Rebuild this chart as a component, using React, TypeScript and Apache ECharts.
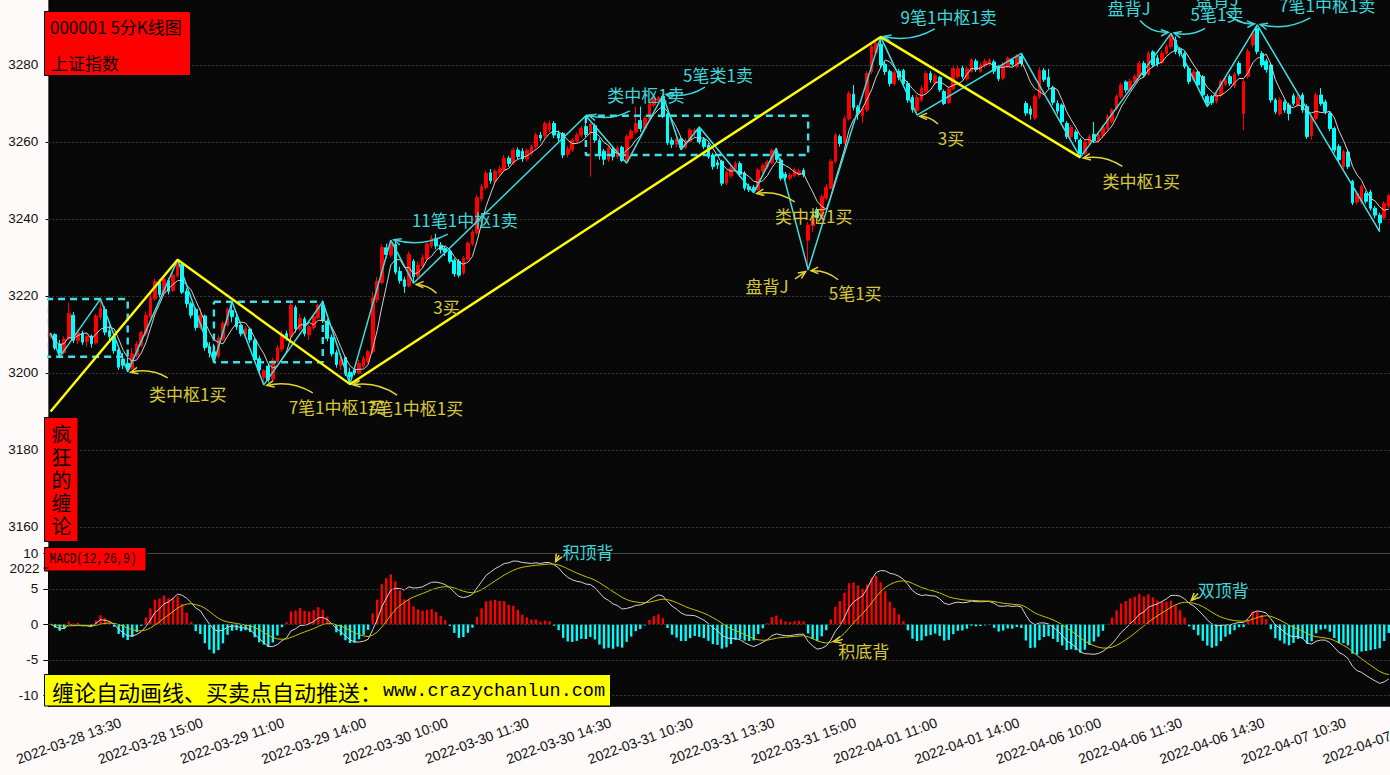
import React, { useEffect, useRef } from 'react';
import * as echarts from 'echarts';

// ---------- data ----------
const tradingDays = ['2022-03-28', '2022-03-29', '2022-03-30', '2022-03-31', '2022-04-01', '2022-04-06', '2022-04-07'];
const firstSlot = 25; // 2022-03-28 13:10
const barCount = 296;
const tickOffset = 4;
const tickStep = 18;

// [open, close, low, high]
const candles: number[][] = [
  [3209.6, 3210.2, 3208.9, 3210.5], [3210.0, 3206.5, 3206.0, 3210.3], [3207.5, 3205.2, 3204.2, 3208.6], [3205.3, 3208.8, 3204.8, 3209.5],
  [3209.0, 3215.5, 3208.5, 3218.3], [3215.0, 3208.5, 3207.8, 3215.8], [3208.4, 3210.5, 3207.5, 3211.2], [3210.3, 3208.0, 3207.3, 3211.0],
  [3208.2, 3209.5, 3206.8, 3210.2], [3209.6, 3207.6, 3206.6, 3210.0], [3207.8, 3214.8, 3207.4, 3215.3], [3214.5, 3216.8, 3213.8, 3219.2],
  [3216.5, 3210.6, 3209.8, 3217.3], [3211.0, 3209.5, 3208.3, 3212.4], [3209.4, 3205.8, 3205.0, 3209.9], [3206.0, 3201.5, 3200.8, 3206.6],
  [3203.6, 3202.0, 3201.0, 3205.2], [3202.5, 3201.0, 3200.3, 3204.0], [3201.2, 3205.0, 3200.8, 3206.5], [3204.6, 3207.5, 3204.0, 3208.2],
  [3207.2, 3210.5, 3206.7, 3211.0], [3210.3, 3215.0, 3209.5, 3216.0], [3214.5, 3219.5, 3214.0, 3220.5], [3219.3, 3223.8, 3218.8, 3224.5],
  [3223.5, 3220.4, 3219.6, 3224.3], [3220.6, 3224.4, 3220.0, 3225.2], [3224.0, 3221.2, 3220.4, 3224.6], [3221.4, 3225.4, 3221.0, 3226.2],
  [3225.2, 3228.4, 3224.8, 3229.4], [3228.2, 3221.0, 3220.5, 3228.8], [3221.2, 3218.0, 3217.0, 3222.0], [3218.0, 3215.0, 3214.2, 3218.6],
  [3216.5, 3211.8, 3211.0, 3217.0], [3211.8, 3215.0, 3211.2, 3216.8], [3214.8, 3206.6, 3205.8, 3215.2], [3206.8, 3205.2, 3204.0, 3208.0],
  [3205.5, 3204.2, 3202.8, 3207.6], [3204.4, 3209.0, 3203.8, 3209.8], [3208.8, 3212.8, 3208.2, 3213.5], [3212.5, 3216.5, 3212.0, 3217.0],
  [3216.2, 3214.6, 3213.2, 3218.5], [3214.4, 3212.0, 3211.2, 3215.5], [3212.4, 3210.2, 3209.5, 3213.0], [3210.0, 3211.5, 3209.2, 3212.2],
  [3211.4, 3208.6, 3207.8, 3211.8], [3208.5, 3203.5, 3202.8, 3209.0], [3203.7, 3200.8, 3199.8, 3204.5], [3198.8, 3200.6, 3196.9, 3201.0],
  [3201.8, 3198.2, 3197.6, 3202.4], [3198.4, 3203.3, 3197.9, 3204.0], [3203.0, 3206.5, 3202.6, 3207.2], [3206.2, 3210.0, 3205.5, 3211.0],
  [3210.2, 3209.2, 3208.4, 3211.0], [3209.4, 3217.6, 3209.0, 3218.2], [3217.0, 3211.5, 3210.5, 3217.6], [3211.4, 3214.2, 3210.8, 3215.3],
  [3214.0, 3210.2, 3209.5, 3214.6], [3209.9, 3212.0, 3208.6, 3212.8], [3211.8, 3214.6, 3211.2, 3215.2], [3214.4, 3217.6, 3214.0, 3218.0],
  [3217.5, 3213.6, 3213.0, 3218.5], [3213.4, 3209.0, 3208.2, 3214.0], [3209.2, 3205.0, 3204.3, 3210.0], [3205.3, 3202.2, 3201.4, 3206.0],
  [3202.0, 3203.5, 3200.8, 3204.5], [3204.0, 3199.8, 3199.2, 3204.3], [3200.2, 3199.0, 3197.1, 3201.4], [3200.8, 3200.0, 3199.4, 3201.8],
  [3200.0, 3202.5, 3199.6, 3203.5], [3201.8, 3203.8, 3201.2, 3204.4], [3203.0, 3205.5, 3202.4, 3206.0], [3205.5, 3219.5, 3205.0, 3221.0],
  [3219.0, 3223.8, 3218.2, 3225.0], [3223.5, 3232.6, 3223.0, 3233.4], [3232.5, 3230.8, 3229.9, 3233.6], [3230.6, 3233.6, 3230.0, 3234.5],
  [3233.4, 3226.2, 3225.6, 3234.0], [3226.4, 3224.0, 3223.2, 3227.6], [3224.2, 3222.5, 3220.8, 3225.0], [3222.6, 3230.8, 3222.2, 3231.6],
  [3229.0, 3225.0, 3223.3, 3229.6], [3225.2, 3228.0, 3224.6, 3229.0], [3227.8, 3230.0, 3227.2, 3230.8], [3229.6, 3233.5, 3229.0, 3234.0],
  [3233.0, 3235.0, 3232.4, 3235.8], [3235.0, 3233.0, 3232.2, 3236.2], [3233.2, 3232.0, 3231.0, 3234.0], [3232.4, 3231.4, 3230.4, 3233.0],
  [3231.6, 3229.0, 3228.4, 3232.0], [3229.3, 3225.8, 3225.0, 3229.8], [3229.0, 3225.4, 3224.8, 3229.6], [3226.0, 3229.8, 3225.5, 3230.4],
  [3229.6, 3233.7, 3229.2, 3234.2], [3233.5, 3236.6, 3233.0, 3237.2], [3236.4, 3245.6, 3236.0, 3246.2], [3245.2, 3248.4, 3244.6, 3249.0],
  [3248.2, 3251.9, 3247.6, 3252.6], [3252.0, 3250.0, 3249.2, 3253.0], [3249.8, 3252.4, 3249.2, 3253.0], [3252.0, 3253.0, 3251.2, 3253.8],
  [3252.7, 3255.8, 3252.2, 3256.6], [3255.8, 3254.4, 3253.6, 3256.4], [3254.6, 3257.9, 3254.0, 3258.6], [3257.9, 3256.2, 3255.5, 3258.6],
  [3257.6, 3255.6, 3254.8, 3258.4], [3255.6, 3257.8, 3255.0, 3258.4], [3257.0, 3258.8, 3256.4, 3259.4], [3258.8, 3261.8, 3258.2, 3262.4],
  [3261.8, 3261.0, 3260.2, 3262.6], [3261.6, 3264.8, 3261.0, 3265.4], [3263.2, 3264.8, 3262.6, 3265.6], [3264.8, 3261.8, 3261.0, 3265.4],
  [3262.2, 3261.0, 3260.2, 3263.0], [3262.2, 3256.6, 3255.8, 3262.6], [3256.8, 3258.2, 3256.0, 3259.0], [3258.0, 3260.4, 3257.4, 3261.0],
  [3260.2, 3261.8, 3259.6, 3262.4], [3261.8, 3263.5, 3261.2, 3264.2], [3264.0, 3262.0, 3261.2, 3266.8], [3262.4, 3264.6, 3251.0, 3265.0],
  [3264.2, 3260.5, 3259.8, 3264.8], [3260.4, 3256.6, 3255.4, 3261.0], [3257.6, 3255.5, 3254.0, 3258.2], [3255.5, 3258.4, 3254.8, 3259.0],
  [3258.2, 3256.2, 3255.2, 3258.8], [3256.2, 3258.4, 3255.6, 3259.0], [3258.6, 3255.2, 3254.8, 3259.0], [3255.0, 3261.4, 3254.5, 3262.0],
  [3261.0, 3262.8, 3260.4, 3263.4], [3262.6, 3264.8, 3262.0, 3269.2], [3265.6, 3263.5, 3262.6, 3269.2], [3263.6, 3266.2, 3263.0, 3266.8],
  [3266.0, 3270.0, 3265.4, 3270.6], [3269.6, 3271.2, 3269.0, 3271.8], [3270.6, 3271.6, 3269.8, 3271.9], [3271.8, 3267.0, 3266.2, 3272.2],
  [3267.2, 3259.8, 3259.2, 3267.6], [3260.4, 3259.4, 3258.4, 3261.2], [3259.4, 3260.8, 3258.6, 3261.4], [3260.8, 3258.6, 3258.0, 3261.2],
  [3258.6, 3260.4, 3258.2, 3261.0], [3260.2, 3263.1, 3259.8, 3263.6], [3262.6, 3263.0, 3261.0, 3263.6], [3263.2, 3260.0, 3259.4, 3263.9],
  [3260.6, 3258.8, 3258.2, 3261.2], [3259.2, 3256.2, 3255.6, 3259.8], [3256.6, 3253.6, 3252.8, 3257.2], [3254.6, 3254.0, 3253.0, 3255.4],
  [3255.0, 3249.3, 3248.6, 3255.4], [3249.3, 3252.0, 3248.8, 3252.6], [3251.2, 3253.2, 3250.6, 3253.8], [3253.0, 3254.4, 3252.4, 3255.0],
  [3254.4, 3251.6, 3251.0, 3255.0], [3251.9, 3248.0, 3247.4, 3252.4], [3248.4, 3247.6, 3247.0, 3249.2], [3248.2, 3247.4, 3246.8, 3248.8],
  [3247.6, 3252.7, 3247.2, 3253.2], [3252.4, 3253.8, 3251.8, 3254.4], [3253.6, 3254.8, 3253.0, 3255.4], [3254.6, 3257.8, 3254.2, 3258.2],
  [3257.6, 3255.4, 3254.8, 3258.4], [3255.3, 3250.6, 3250.0, 3255.8], [3251.6, 3250.8, 3250.2, 3252.2], [3250.6, 3251.4, 3250.0, 3252.0],
  [3251.2, 3252.8, 3250.8, 3253.4], [3251.6, 3252.4, 3251.0, 3253.0], [3252.6, 3251.6, 3250.8, 3253.2], [3234.5, 3238.4, 3226.8, 3239.2],
  [3238.2, 3240.0, 3236.6, 3241.0], [3242.4, 3240.4, 3239.6, 3243.0], [3240.6, 3245.8, 3240.0, 3246.4], [3245.4, 3248.2, 3244.8, 3249.0],
  [3248.0, 3255.0, 3247.6, 3255.6], [3255.0, 3261.8, 3254.5, 3262.4], [3261.4, 3259.6, 3258.8, 3262.0], [3259.8, 3266.1, 3259.4, 3266.8],
  [3266.0, 3272.6, 3265.6, 3273.2], [3272.4, 3269.0, 3268.2, 3274.8], [3269.0, 3267.6, 3265.8, 3269.6], [3266.8, 3268.6, 3265.0, 3269.2],
  [3268.3, 3277.8, 3267.8, 3278.4], [3278.3, 3284.8, 3277.6, 3285.4], [3283.2, 3285.6, 3282.6, 3286.2], [3285.4, 3280.0, 3279.2, 3287.3],
  [3280.2, 3278.3, 3277.4, 3281.0], [3278.3, 3275.2, 3274.4, 3278.8], [3275.2, 3278.0, 3274.6, 3278.6], [3278.4, 3276.8, 3276.0, 3279.0],
  [3278.6, 3275.2, 3274.6, 3279.0], [3275.2, 3270.9, 3270.2, 3275.8], [3271.6, 3268.4, 3267.6, 3272.2], [3268.2, 3271.6, 3267.0, 3272.2],
  [3270.9, 3273.9, 3270.4, 3274.6], [3273.1, 3277.8, 3272.6, 3278.4], [3277.8, 3276.1, 3275.4, 3278.4], [3275.4, 3277.2, 3274.8, 3277.8],
  [3276.8, 3273.6, 3273.0, 3277.2], [3273.1, 3270.0, 3269.6, 3273.6], [3270.2, 3273.8, 3269.8, 3274.4], [3273.8, 3279.1, 3273.4, 3279.6],
  [3277.0, 3279.0, 3276.4, 3279.8], [3279.2, 3277.0, 3276.4, 3279.8], [3276.4, 3279.0, 3276.0, 3279.6], [3278.3, 3281.3, 3278.0, 3281.8],
  [3281.0, 3278.8, 3278.2, 3281.6], [3278.4, 3280.0, 3278.0, 3280.6], [3279.8, 3280.9, 3279.2, 3281.6], [3280.4, 3281.2, 3279.8, 3281.8],
  [3280.8, 3278.4, 3277.6, 3281.4], [3279.6, 3276.4, 3275.8, 3280.0], [3276.6, 3280.2, 3276.0, 3280.8], [3279.6, 3281.8, 3279.2, 3282.2],
  [3281.3, 3280.2, 3279.6, 3281.8], [3279.6, 3282.4, 3279.2, 3282.8], [3282.2, 3280.4, 3279.6, 3283.0], [3270.0, 3267.5, 3266.8, 3270.6],
  [3268.6, 3267.2, 3265.8, 3269.4], [3266.2, 3271.8, 3265.7, 3272.4], [3271.8, 3278.6, 3271.2, 3279.4], [3278.6, 3276.2, 3275.6, 3279.2],
  [3276.8, 3274.4, 3273.8, 3279.0], [3274.0, 3270.3, 3269.6, 3274.6], [3270.0, 3268.0, 3267.2, 3270.8], [3269.6, 3265.3, 3264.6, 3270.0],
  [3264.8, 3261.4, 3260.8, 3265.4], [3261.4, 3263.8, 3260.8, 3264.4], [3262.6, 3260.8, 3260.0, 3263.2], [3260.5, 3257.0, 3256.0, 3261.0],
  [3257.0, 3260.0, 3256.6, 3260.6], [3259.6, 3261.4, 3259.0, 3262.0], [3262.0, 3260.4, 3259.8, 3265.2], [3260.4, 3261.8, 3259.8, 3262.4],
  [3261.6, 3263.8, 3261.0, 3264.4], [3263.5, 3266.6, 3263.0, 3267.2], [3265.4, 3268.3, 3264.8, 3268.8], [3268.7, 3271.8, 3268.2, 3272.4],
  [3271.8, 3274.8, 3271.2, 3275.4], [3275.6, 3273.5, 3272.8, 3276.0], [3273.5, 3275.8, 3273.0, 3276.4], [3275.6, 3277.0, 3275.0, 3277.6],
  [3277.0, 3280.4, 3276.6, 3281.0], [3280.4, 3277.4, 3276.8, 3281.0], [3277.6, 3283.0, 3277.2, 3283.6], [3283.4, 3280.0, 3279.4, 3283.8],
  [3281.8, 3280.4, 3279.6, 3282.6], [3280.6, 3283.0, 3280.2, 3283.6], [3283.0, 3284.8, 3282.6, 3285.4], [3284.8, 3287.8, 3284.2, 3288.2],
  [3286.5, 3283.5, 3282.8, 3287.4], [3284.0, 3283.0, 3282.2, 3284.6], [3283.0, 3279.6, 3279.0, 3283.5], [3279.1, 3275.7, 3275.0, 3279.6],
  [3276.2, 3278.2, 3275.6, 3278.8], [3278.2, 3274.8, 3274.2, 3278.6], [3277.0, 3272.2, 3271.6, 3277.4], [3271.8, 3270.2, 3269.2, 3272.4],
  [3271.8, 3270.2, 3269.6, 3272.2], [3270.6, 3272.2, 3270.0, 3272.8], [3272.2, 3275.7, 3271.6, 3276.2], [3275.0, 3276.2, 3274.6, 3276.8],
  [3277.0, 3275.2, 3274.6, 3277.6], [3274.6, 3277.6, 3274.0, 3278.2], [3280.4, 3277.8, 3277.2, 3281.0], [3267.4, 3275.7, 3263.1, 3276.4],
  [3277.0, 3283.5, 3276.4, 3284.2], [3285.2, 3288.2, 3284.6, 3288.8], [3289.5, 3283.5, 3282.8, 3290.4], [3283.0, 3280.0, 3279.4, 3283.6],
  [3281.0, 3278.8, 3278.0, 3281.6], [3280.0, 3270.9, 3270.2, 3280.6], [3270.9, 3267.9, 3267.2, 3271.4], [3267.4, 3270.9, 3266.8, 3271.6],
  [3270.4, 3268.3, 3267.6, 3271.0], [3269.6, 3267.4, 3265.6, 3270.2], [3272.0, 3270.0, 3269.4, 3272.6], [3269.6, 3271.6, 3269.0, 3272.2],
  [3272.2, 3268.3, 3267.6, 3272.8], [3269.2, 3261.4, 3260.8, 3269.8], [3261.6, 3266.4, 3260.6, 3267.0], [3266.1, 3272.2, 3265.6, 3272.8],
  [3272.2, 3270.0, 3269.4, 3274.0], [3270.4, 3267.9, 3267.2, 3271.0], [3267.4, 3263.5, 3262.8, 3268.0], [3263.5, 3257.9, 3257.2, 3264.0],
  [3258.8, 3255.4, 3254.8, 3259.4], [3253.6, 3257.5, 3253.0, 3258.0], [3257.4, 3253.6, 3253.0, 3258.0], [3249.8, 3244.2, 3243.6, 3250.2],
  [3244.4, 3246.6, 3243.8, 3247.2], [3244.4, 3248.4, 3243.8, 3249.0], [3246.6, 3244.6, 3244.0, 3247.2], [3247.0, 3242.8, 3242.2, 3247.6],
  [3242.8, 3241.0, 3240.2, 3243.4], [3241.0, 3239.0, 3236.7, 3241.6], [3240.4, 3244.0, 3239.8, 3244.6], [3243.4, 3246.0, 3242.8, 3246.6],
];

// 笔 (strokes): [bar index, price]
const biPoints: number[][] = [
  [0, 3210.3], [2, 3204.2], [11, 3219.2], [17, 3200.3], [28, 3229.4], [36, 3202.8], [40, 3218.5], [47, 3196.9],
  [60, 3218.5], [66, 3197.1], [75, 3234.5], [80, 3223.3], [118, 3266.8], [127, 3254.5], [135, 3272.2], [139, 3258.0],
  [143, 3263.9], [155, 3246.8], [160, 3258.4], [167, 3226.8], [183, 3287.3], [191, 3267.0], [214, 3283.0], [227, 3256.0],
  [247, 3288.2], [255, 3269.2], [266, 3290.4], [293, 3236.7],
];
// 线段 (segments)
const segmentPoints: number[][] = [[0, 3190.0], [28, 3229.4], [66, 3197.1], [183, 3287.3], [227, 3256.0]];
// 中枢 boxes: [startIndex, endIndex, low, high]
const zhongshu: number[][] = [[-1, 17, 3204.2, 3219.2], [36, 60, 3202.8, 3218.5], [118, 167, 3256.6, 3266.8]];

const mainTicks = [3160, 3180, 3200, 3220, 3240, 3260, 3280];
const macdTicks = [-10, -5, 0, 5, 10];

// signals on strokes: text, stroke point, side
const signals = [
  { text: '类中枢1买', bi: 3, side: 'buy' },
  { text: '7笔1中枢1买', bi: 7, side: 'buy' },
  { text: '7笔1中枢1买', bi: 9, side: 'buy' },
  { text: '11笔1中枢1卖', bi: 10, side: 'sell' },
  { text: '3买', bi: 11, side: 'buy' },
  { text: '类中枢1卖', bi: 12, side: 'sell' },
  { text: '5笔类1卖', bi: 14, side: 'sell' },
  { text: '类中枢1买', bi: 17, side: 'buy' },
  { text: '盘背J', bi: 19, side: 'buy' },
  { text: '5笔1买', bi: 19, side: 'buy' },
  { text: '9笔1中枢1卖', bi: 20, side: 'sell' },
  { text: '3买', bi: 21, side: 'buy' },
  { text: '类中枢1买', bi: 23, side: 'buy' },
  { text: '盘背J', bi: 24, side: 'sell' },
  { text: '5笔1卖', bi: 24, side: 'sell' },
  { text: '盘背J', bi: 26, side: 'sell' },
  { text: '7笔1中枢1卖', bi: 26, side: 'sell' },
];
// layout of each label: [text dx, text dy, arrow start dx, arrow start dy, curvature]
const signalLayout: number[][] = [
  [60, 22, 40, 6, 0.2], [73, 22, 49, 8, 0.2], [65, 23, 47, 11, 0.2], [74, -21, 57, -6, -0.2],
  [33, 23, 23, 10, 0.2], [60, -21, 44, -5, -0.2], [55, -21, 42, -8, -0.2], [60, 23, 41, 9, 0.2],
  [-41, 16, -13, 9, 0], [47, 23, 30, 10, 0.2], [68, -20, 54, -8, -0.2], [34, 22, 21, 9, 0.2],
  [61, 23, 42, 9, 0.2], [-42, -26, -31, -13, 0.25], [46, -20, 34, -5, -0.2], [-40, -26, -31, -13, 0.25],
  [70, -20, 53, -7, -0.2],
];
const macdSignals = [
  { text: '积顶背', index: 111, side: 'sell' },
  { text: '积底背', index: 172, side: 'buy' },
  { text: '双顶背', index: 251, side: 'sell' },
];
const macdSignalLayout: number[][] = [[34, -13, 5, -9, 0], [33, 8, 12, -3, 0], [34, -13, 9, -9, 0]];

// ---------- derived ----------
function buildTimes(): string[] {
  const slots: string[] = [];
  const f = (m: number) => `${String(Math.floor(m / 60)).padStart(2, '0')}:${String(m % 60).padStart(2, '0')}`;
  for (let m = 9 * 60 + 35; m <= 11 * 60 + 30; m += 5) slots.push(f(m));
  for (let m = 13 * 60 + 5; m <= 15 * 60; m += 5) slots.push(f(m));
  const all: string[] = [];
  tradingDays.forEach((d) => slots.forEach((s) => all.push(`${d} ${s}`)));
  return all.slice(firstSlot, firstSlot + barCount);
}

const CJK = '"Noto Sans CJK SC"';
const SELL = '#3fd6da';
const BUY = '#d6c83a';
const ARROW_BUY = '#e2d436';

function arrow(sx: number, sy: number, tx: number, ty: number, rad: number, color: string) {
  const len = Math.hypot(sx - tx, sy - ty) || 1;
  const ex = tx + ((sx - tx) / len) * 3;
  const ey = ty + ((sy - ty) / len) * 3;
  const dx = ex - sx, dy = ey - sy;
  const cx = (sx + ex) / 2 - rad * dy;
  const cy = (sy + ey) / 2 + rad * dx;
  const ang = Math.atan2(ey - cy, ex - cx);
  const L = 8, A = 0.42;
  const p1 = [ex - L * Math.cos(ang - A), ey - L * Math.sin(ang - A)];
  const p2 = [ex - L * Math.cos(ang + A), ey - L * Math.sin(ang + A)];
  return [
    { type: 'bezierCurve', z: 100, shape: { x1: sx, y1: sy, x2: ex, y2: ey, cpx1: cx, cpy1: cy }, style: { stroke: color, lineWidth: 1.5, fill: 'none' } },
    { type: 'polyline', z: 100, shape: { points: [p1, [ex, ey], p2] }, style: { stroke: color, lineWidth: 1.5, fill: 'none' } },
  ];
}

function label(x: number, y: number, text: string, color: string, font: string, align = 'center') {
  return {
    type: 'text', z: 101, x, y,
    style: { text, fill: color, font, align, textAlign: align, verticalAlign: 'middle', textVerticalAlign: 'middle' },
  };
}

export default function App() {
  const ref = useRef<HTMLDivElement>(null);

  useEffect(() => {
    document.body.style.margin = '0';
    if (!ref.current) return;
    const chart = echarts.init(ref.current, undefined, { renderer: 'svg' });

    const times = buildTimes();
    const closes = candles.map((c) => c[1]);
    const ma5 = closes.map((_, i) => {
      const s = closes.slice(Math.max(0, i - 4), i + 1);
      return +(s.reduce((a, b) => a + b, 0) / s.length).toFixed(2);
    });
    let e12 = closes[0], e26 = closes[0], dea = 0;
    const difArr: number[] = [], deaArr: number[] = [], histArr: number[] = [];
    closes.forEach((c, i) => {
      if (i > 0) {
        e12 = e12 * 11 / 13 + c * 2 / 13;
        e26 = e26 * 25 / 27 + c * 2 / 27;
      }
      const dif = e12 - e26;
      dea = i === 0 ? dif : dea * 0.8 + dif * 0.2;
      difArr.push(+dif.toFixed(3));
      deaArr.push(+dea.toFixed(3));
      histArr.push(+(2 * (dif - dea)).toFixed(3));
    });

    const tickInterval = (i: number) => i % tickStep === tickOffset;
    const gridLine = { color: '#3c3c3c', type: [2, 2], width: 1 };
    const left = 48.33, width = 1342.7;

    const rectSeries = zhongshu.map((z) => ({
      type: 'line', xAxisIndex: 1, yAxisIndex: 0, symbol: 'none', silent: true,
      data: [[z[0], z[3]], [z[1], z[3]], [z[1], z[2]], [z[0], z[2]], [z[0], z[3]]],
      lineStyle: { color: '#3fe0e6', width: 2.4, type: [7, 5] }, z: 4,
    }));

    chart.setOption({
      animation: false,
      backgroundColor: '#fffafa',
      grid: [
        { left, top: 0, width, height: 553, show: true, backgroundColor: '#080808', borderWidth: 0, containLabel: false, outerBoundsMode: 'none' },
        { left, top: 553.3, width, height: 153.4, show: true, backgroundColor: '#080808', borderWidth: 0, containLabel: false, outerBoundsMode: 'none' },
      ],
      xAxis: [
        { type: 'category', gridIndex: 0, data: times, boundaryGap: true, axisLine: { show: false }, axisTick: { show: false }, axisLabel: { show: false }, splitLine: { show: false } },
        { type: 'value', gridIndex: 0, min: -0.5, max: barCount - 0.5, show: false, splitLine: { show: false } },
        {
          type: 'category', gridIndex: 1, data: times, boundaryGap: true,
          axisLine: { show: true, lineStyle: { color: '#000', width: 1 } },
          axisTick: { show: true, interval: tickInterval, alignWithLabel: true, length: 5, lineStyle: { color: '#000' } },
          axisLabel: {
            interval: tickInterval, rotate: 20, align: 'center', verticalAlign: 'middle', margin: 34,
            color: '#111', fontSize: 14, fontFamily: 'Liberation Sans', hideOverlap: false,
          },
          splitLine: { show: false },
        },
      ],
      yAxis: [
        {
          type: 'value', gridIndex: 0, min: 3153.24, max: 3296.88, scale: true,
          axisLine: { show: true, lineStyle: { color: '#000' } },
          axisTick: { show: true, length: 5, customValues: mainTicks, lineStyle: { color: '#000' } },
          axisLabel: {
            customValues: mainTicks, color: '#111', fontSize: 13.5, fontFamily: 'Liberation Sans', margin: 10,
            formatter: (v: number) => (Math.abs(v % 20) < 1e-6 ? String(v) : ''),
          },
          splitLine: { show: false },
        },
        {
          type: 'value', gridIndex: 1, min: -11.6, max: 10,
          axisLine: { show: true, lineStyle: { color: '#000' } },
          axisTick: { show: true, length: 5, customValues: macdTicks, lineStyle: { color: '#000' } },
          axisLabel: {
            customValues: macdTicks, color: '#111', fontSize: 13.5, fontFamily: 'Liberation Sans', margin: 10,
            formatter: (v: number) => (Math.abs(v % 5) < 1e-6 ? String(v) : ''),
          },
          splitLine: { show: false },
        },
      ],
      series: [
        {
          type: 'candlestick', xAxisIndex: 0, yAxisIndex: 0, data: candles, barWidth: '70%', z: 2,
          itemStyle: { color: '#ff0000', color0: '#00ffff', borderColor: '#ff0000', borderColor0: '#00ffff', borderWidth: 1 },
          markLine: { silent: true, symbol: 'none', label: { show: false }, lineStyle: gridLine, data: mainTicks.map((v) => ({ yAxis: v })), z: 1 },
        },
        { type: 'line', xAxisIndex: 0, yAxisIndex: 0, data: ma5, symbol: 'none', lineStyle: { color: '#d0d0d0', width: 1 }, z: 3, silent: true },
        { type: 'line', xAxisIndex: 1, yAxisIndex: 0, data: biPoints, symbol: 'none', lineStyle: { color: '#3ee0e2', width: 1.5 }, z: 5, silent: true },
        { type: 'line', xAxisIndex: 1, yAxisIndex: 0, data: segmentPoints, symbol: 'none', lineStyle: { color: '#ffff00', width: 2.4 }, z: 6, silent: true },
        ...rectSeries,
        {
          type: 'bar', xAxisIndex: 2, yAxisIndex: 1, barWidth: '52%', silent: true,
          data: histArr.map((v) => ({ value: v, itemStyle: { color: v >= 0 ? '#ff0000' : '#00ffff' } })),
          markLine: { silent: true, symbol: 'none', label: { show: false }, lineStyle: gridLine, data: [5, 0, -5, -10].map((v) => ({ yAxis: v })) },
        },
        { type: 'line', xAxisIndex: 2, yAxisIndex: 1, data: difArr, symbol: 'none', lineStyle: { color: '#d4d4d4', width: 1 }, z: 4, silent: true },
        { type: 'line', xAxisIndex: 2, yAxisIndex: 1, data: deaArr, symbol: 'none', lineStyle: { color: '#c8c000', width: 1 }, z: 4, silent: true },
      ],
    });

    const nSeries = 4 + rectSeries.length;
    const deaSeries = nSeries + 2;
    const g: any[] = [];

    signals.forEach((s, k) => {
      const [tdx, tdy, adx, ady, rad] = signalLayout[k];
      const p = chart.convertToPixel({ seriesIndex: 2 }, biPoints[s.bi]) as number[];
      const textColor = s.side === 'buy' ? BUY : SELL;
      const arrowColor = s.side === 'buy' ? ARROW_BUY : SELL;
      g.push(...arrow(p[0] + adx, p[1] + ady, p[0], p[1], rad, arrowColor));
      g.push(label(p[0] + tdx, p[1] + tdy, s.text, textColor, `17px ${CJK}`));
    });
    macdSignals.forEach((s, k) => {
      const [tdx, tdy, adx, ady, rad] = macdSignalLayout[k];
      const p = chart.convertToPixel({ seriesIndex: deaSeries }, [s.index, deaArr[s.index]]) as number[];
      g.push(...arrow(p[0] + adx, p[1] + ady, p[0], p[1], rad, ARROW_BUY));
      g.push(label(p[0] + tdx, p[1] + tdy, s.text, s.side === 'buy' ? BUY : SELL, `17px ${CJK}`));
    });

    // title boxes
    g.push({ type: 'rect', z: 110, shape: { x: 44.5, y: 11.5, width: 146, height: 64 }, style: { fill: '#ff0000', stroke: '#000', lineWidth: 1 } });
    g.push({ ...label(50, 26, '000001 5分K线图', '#000', `17px ${CJK}`, 'left'), z: 111 });
    g.push({ ...label(51, 62, '上证指数', '#000', `17px ${CJK}`, 'left'), z: 111 });

    g.push({ type: 'rect', z: 110, shape: { x: 44.5, y: 417.5, width: 33.5, height: 124 }, style: { fill: '#ff0000', stroke: '#000', lineWidth: 1 } });
    ['疯', '狂', '的', '缠', '论'].forEach((ch, i) => {
      g.push({ ...label(61.5, 433 + i * 23, ch, '#000', `20px ${CJK}`), z: 111 });
    });

    g.push({ type: 'rect', z: 110, shape: { x: 44.5, y: 547.5, width: 101.5, height: 23.5 }, style: { fill: '#ff0000', stroke: '#000', lineWidth: 1 } });
    g.push({ ...label(49.5, 559.5, 'MACD(12,26,9)', '#000', '14px "Liberation Mono"', 'left'), z: 111, scaleX: 0.8 });

    g.push({ type: 'rect', z: 110, shape: { x: 44.5, y: 674.5, width: 566, height: 31.5 }, style: { fill: '#ffff00', stroke: '#000', lineWidth: 1 } });
    g.push({ ...label(52, 690.5, '缠论自动画线、买卖点自动推送：', '#000', `22px ${CJK}`, 'left'), z: 111 });
    g.push({ ...label(383, 691, 'www.crazychanlun.com', '#000', '18.5px "Liberation Mono"', 'left'), z: 111 });

    // stray tick label on the MACD axis
    g.push({ ...label(39.5, 568, '2022', '#111', '13.5px "Liberation Sans"', 'right'), z: 111 });
    g.push({ type: 'line', z: 111, shape: { x1: 43.3, y1: 568, x2: 48.3, y2: 568 }, style: { stroke: '#000', lineWidth: 1 } });

    chart.setOption({ graphic: g });

    return () => chart.dispose();
  }, []);

  return <div ref={ref} style={{ width: 1390, height: 775 }} />;
}
